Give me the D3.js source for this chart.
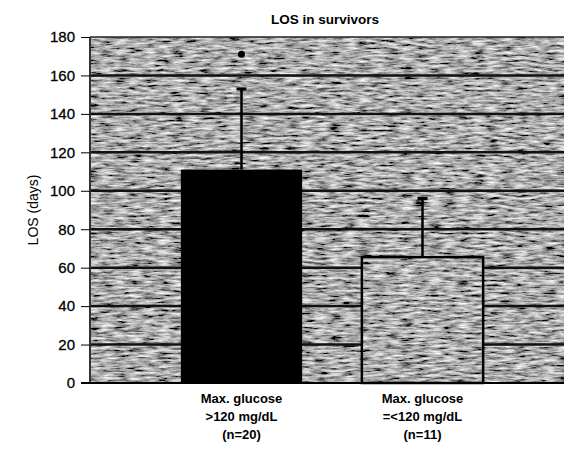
<!DOCTYPE html>
<html><head><meta charset="utf-8">
<script src="https://cdn.jsdelivr.net/npm/d3@7"></script>
<style>body{margin:0;background:#fff}svg{display:block}</style>
</head><body>
<script>
const categories = ["Max. glucose|>120 mg/dL|(n=20)", "Max. glucose|=<120 mg/dL|(n=11)"];
const meanLOS = [111, 65.5];
const errorTop = [153, 96];
const outliers = [171, null];
const yTicks = [0, 20, 40, 60, 80, 100, 120, 140, 160, 180];
const title = "LOS in survivors";
const yLabel = "LOS (days)";

const W = 564, H = 451;
const plot = {left: 90, right: 564, top: 37, bottom: 383};
const svg = d3.select("body").append("svg").attr("width", W).attr("height", H);

const defs = svg.append("defs");
const f = defs.append("filter").attr("id", "tex").attr("x", 0).attr("y", 0).attr("width", 1).attr("height", 1);
f.append("feTurbulence").attr("type", "fractalNoise").attr("baseFrequency", "0.07 0.4").attr("numOctaves", 5).attr("seed", 5).attr("result", "n");
f.append("feColorMatrix").attr("in", "n").attr("type", "matrix")
  .attr("values", "1.5 0 0 0 -0.34  1.5 0 0 0 -0.34  1.5 0 0 0 -0.34  0 0 0 0 1").attr("result", "g");
f.append("feComposite").attr("in", "g").attr("in2", "SourceGraphic").attr("operator", "in");

const y = d3.scaleLinear().domain([0, 180]).range([plot.bottom, plot.top]);
const x = d3.scaleBand().domain(categories).range([151, 513]).paddingInner(0.33).paddingOuter(0.165);

const font = "Liberation Sans, Arial, sans-serif";

// textured background
svg.append("rect").attr("x", plot.left).attr("y", plot.top)
  .attr("width", plot.right - plot.left).attr("height", plot.bottom - plot.top)
  .attr("fill", "#777").attr("filter", "url(#tex)");

// gridlines
svg.append("g").selectAll("line").data(yTicks.filter(d => d > 0 && d < 180)).join("line")
  .attr("x1", plot.left).attr("x2", plot.right)
  .attr("y1", d => y(d)).attr("y2", d => y(d))
  .attr("stroke", "#111").attr("stroke-width", 2.5);
svg.append("line").attr("x1", plot.left).attr("x2", plot.right).attr("y1", y(180)).attr("y2", y(180))
  .attr("stroke", "#222").attr("stroke-width", 1.5);

// left border
svg.append("line").attr("x1", plot.left).attr("x2", plot.left).attr("y1", plot.top).attr("y2", plot.bottom)
  .attr("stroke", "#333").attr("stroke-width", 2);

// error bars
const eb = svg.append("g");
categories.forEach((c, i) => {
  const cx = x(c) + x.bandwidth() / 2;
  eb.append("line").attr("x1", cx).attr("x2", cx).attr("y1", y(meanLOS[i])).attr("y2", y(errorTop[i]))
    .attr("stroke", "#000").attr("stroke-width", 2.5);
  eb.append("line").attr("x1", cx - 5).attr("x2", cx + 5).attr("y1", y(errorTop[i])).attr("y2", y(errorTop[i]))
    .attr("stroke", "#000").attr("stroke-width", 3);
  if (outliers[i] != null) {
    eb.append("circle").attr("cx", cx).attr("cy", y(outliers[i])).attr("r", 3.5).attr("fill", "#000");
  }
});

// bars
const bars = svg.append("g");
bars.append("rect").attr("x", x(categories[0])).attr("y", y(meanLOS[0]))
  .attr("width", x.bandwidth()).attr("height", y(0) - y(meanLOS[0])).attr("fill", "#000");
bars.append("rect").attr("x", x(categories[1])).attr("y", y(meanLOS[1]))
  .attr("width", x.bandwidth()).attr("height", y(0) - y(meanLOS[1]))
  .attr("fill", "#7a7a7a").attr("filter", "url(#tex)");
bars.append("rect").attr("x", x(categories[1])).attr("y", y(meanLOS[1]))
  .attr("width", x.bandwidth()).attr("height", y(0) - y(meanLOS[1]))
  .attr("fill", "none").attr("stroke", "#000").attr("stroke-width", 2.5);

// axes
const yAxis = d3.axisLeft(y).tickValues(yTicks).tickSize(9).tickPadding(6);
const ga = svg.append("g").attr("transform", `translate(${plot.left},0)`).call(yAxis);
ga.select(".domain").remove();
ga.selectAll("line").attr("stroke", "#000").attr("stroke-width", 1);
ga.selectAll("text").attr("font-family", font).attr("font-size", 15).attr("fill", "#000")
  .attr("stroke", "#000").attr("stroke-width", 0.3);

svg.append("line").attr("x1", plot.left - 9).attr("x2", plot.right).attr("y1", plot.bottom).attr("y2", plot.bottom)
  .attr("stroke", "#000").attr("stroke-width", 2);

// x labels
categories.forEach(c => {
  const cx = x(c) + x.bandwidth() / 2;
  const t = svg.append("text").attr("text-anchor", "middle")
    .attr("font-family", font).attr("font-weight", "bold").attr("font-size", 13);
  c.split("|").forEach((ln, k) => {
    t.append("tspan").attr("x", cx).attr("y", 403 + k * 18).text(ln);
  });
});

// title
svg.append("text").attr("x", 325).attr("y", 24).attr("text-anchor", "middle")
  .attr("font-family", font).attr("font-weight", "bold").attr("font-size", 13.5)
  .text(title);

// y label
svg.append("text").attr("transform", `translate(38,${(plot.top + plot.bottom) / 2}) rotate(-90)`)
  .attr("text-anchor", "middle").attr("font-family", font).attr("font-size", 14)
  .text(yLabel);
</script>
</body></html>
